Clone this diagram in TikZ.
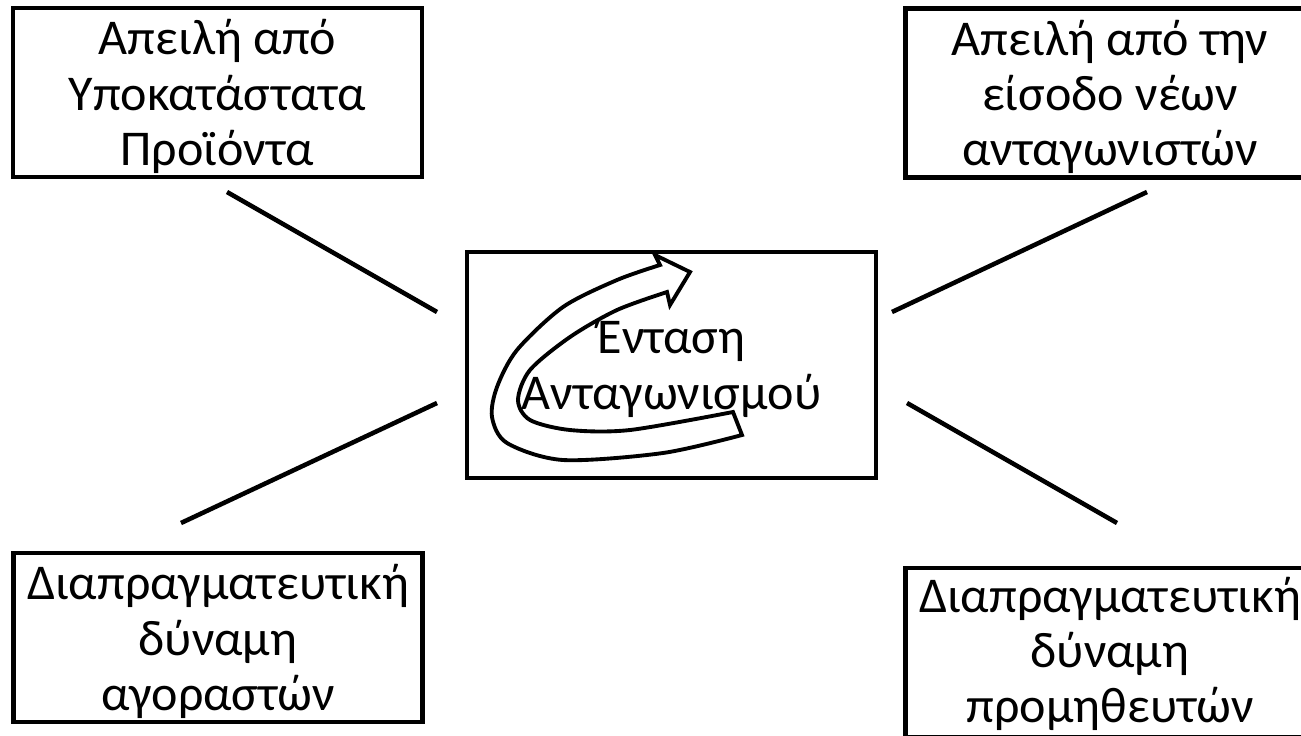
\documentclass[tikz,border=0pt]{standalone}
\usepackage{fontspec}
\setmainfont{Carlito}
\usetikzlibrary{positioning}

\begin{document}
\begin{tikzpicture}[x=0.02cm, y=-0.02cm,
    force/.style={draw, line width=2.6pt, align=center, inner sep=0pt,
      minimum width=8.18cm, minimum height=3.38cm, text depth=-3.5pt,
      font=\fontsize{28.5}{31.5}\selectfont},
    link/.style={line width=2.6pt},
    swirl/.style={line width=2.2pt}]
  \useasboundingbox (0,0) rectangle (1301,735);

  \node[force] (subst) at (217.5,92.5) {Απειλή από\\Υποκατάστατα\\Προϊόντα};
  \node[force] (entry) at (1110,93) {Απειλή από την\\είσοδο νέων\\ανταγωνιστών};
  \node[force] (buyers) at (218,637.5) {Διαπραγματευτική\\δύναμη\\αγοραστών};
  \node[force, text depth=3pt] (suppl) at (1110,652.5) {Διαπραγματευτική\\δύναμη\\προμηθευτών};
  \node[force, minimum height=4.52cm] (rivalry) at (671.5,365) {Ένταση\\Ανταγωνισμού};

  \coordinate (s1) at (227,192);   \coordinate (s2) at (437,312);
  \coordinate (e1) at (1147,192);  \coordinate (e2) at (892,312);
  \coordinate (b1) at (437,403);   \coordinate (b2) at (181,523);
  \coordinate (p1) at (907,403);   \coordinate (p2) at (1117,523);

  \draw[link] (s1) -- (s2);
  \draw[link] (e1) -- (e2);
  \draw[link] (b1) -- (b2);
  \draw[link] (p1) -- (p2);

  \draw[swirl] (742,435)
    -- plot[smooth] coordinates {(742,435) (663,453) (563,460) (507,443) (492,417)
        (497,387) (517,350) (563,307) (617,280) (660,265)}
    -- (655,255) -- (690,272) -- (670,305) -- (667,292)
    -- plot[smooth] coordinates {(667,292) (617,310) (570,337) (530,370) (518,400)
        (530,420) (570,430) (630,430) (733,412)}
    -- cycle;
\end{tikzpicture}
\end{document}
